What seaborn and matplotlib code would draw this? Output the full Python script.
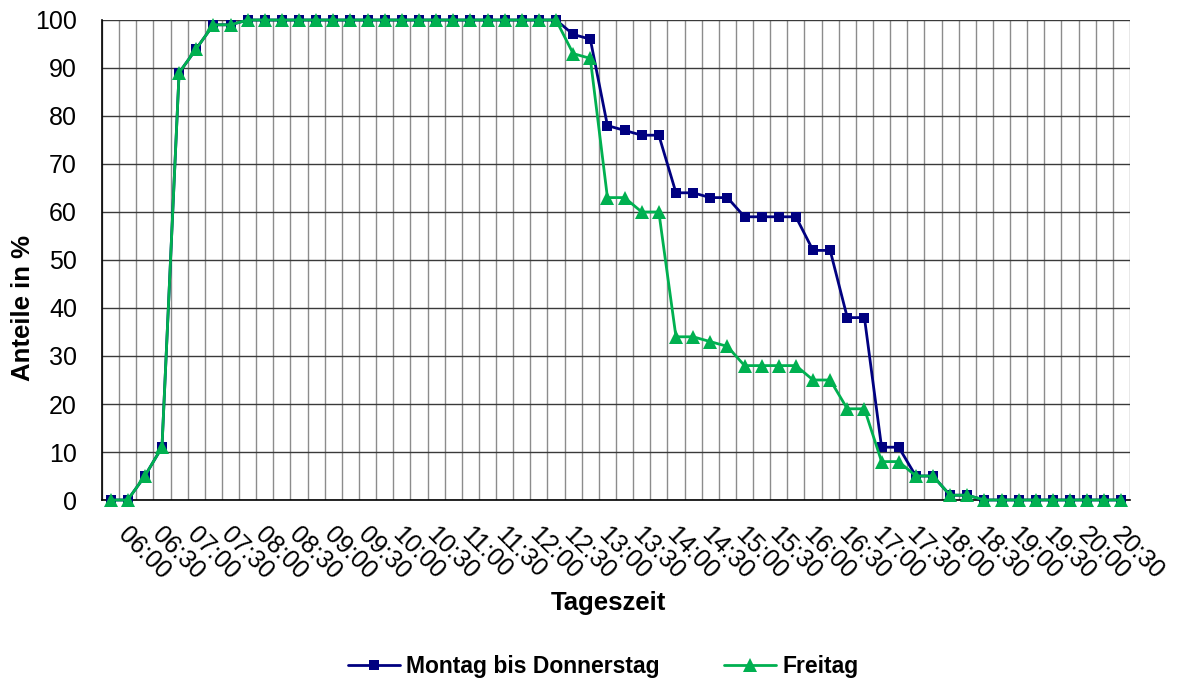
import numpy as np
import pandas as pd
import matplotlib
matplotlib.use("Agg")
import matplotlib.pyplot as plt
import matplotlib.transforms as mtransforms
import seaborn as sns

# Viertelstunden von 06:00 bis 20:45
zeiten = ["06:00", "06:15", "06:30", "06:45", "07:00", "07:15", "07:30", "07:45",
          "08:00", "08:15", "08:30", "08:45", "09:00", "09:15", "09:30", "09:45",
          "10:00", "10:15", "10:30", "10:45", "11:00", "11:15", "11:30", "11:45",
          "12:00", "12:15", "12:30", "12:45", "13:00", "13:15", "13:30", "13:45",
          "14:00", "14:15", "14:30", "14:45", "15:00", "15:15", "15:30", "15:45",
          "16:00", "16:15", "16:30", "16:45", "17:00", "17:15", "17:30", "17:45",
          "18:00", "18:15", "18:30", "18:45", "19:00", "19:15", "19:30", "19:45",
          "20:00", "20:15", "20:30", "20:45"]

tick_labels = ["06:00", "06:30", "07:00", "07:30", "08:00", "08:30", "09:00", "09:30",
               "10:00", "10:30", "11:00", "11:30", "12:00", "12:30", "13:00", "13:30",
               "14:00", "14:30", "15:00", "15:30", "16:00", "16:30", "17:00", "17:30",
               "18:00", "18:30", "19:00", "19:30", "20:00", "20:30"]

mo_do = [0, 0, 5, 11, 89, 94, 99, 99,
         100, 100, 100, 100, 100, 100, 100, 100, 100, 100,
         100, 100, 100, 100, 100, 100, 100, 100, 100,
         97, 96, 78, 77, 76, 76, 64, 64, 63, 63, 59, 59, 59, 59,
         52, 52, 38, 38, 11, 11, 5, 5, 1, 1,
         0, 0, 0, 0, 0, 0, 0, 0, 0]

freitag = [0, 0, 5, 11, 89, 94, 99, 99,
           100, 100, 100, 100, 100, 100, 100, 100, 100, 100,
           100, 100, 100, 100, 100, 100, 100, 100, 100,
           93, 92, 63, 63, 60, 60, 34, 34, 33, 32, 28, 28, 28, 28,
           25, 25, 19, 19, 8, 8, 5, 5, 1, 1,
           0, 0, 0, 0, 0, 0, 0, 0, 0]

df = pd.DataFrame({"zeit": zeiten, "pos": np.arange(len(zeiten)),
                   "Montag bis Donnerstag": mo_do, "Freitag": freitag})

sns.set_style("white")
plt.rcParams["font.family"] = ["Liberation Sans", "DejaVu Sans"]
plt.rcParams["text.color"] = "black"
plt.rcParams["axes.labelcolor"] = "black"
plt.rcParams["xtick.color"] = "black"
plt.rcParams["ytick.color"] = "black"

fig = plt.figure(figsize=(11.79, 6.8), dpi=100)
ax = fig.add_axes([102 / 1179, 180 / 680, 1028 / 1179, 480 / 680])

navy = "#000080"
gruen = "#00B050"

sns.lineplot(data=df, x="pos", y="Montag bis Donnerstag", ax=ax, color=navy,
             marker="s", markersize=7, markeredgewidth=0, linewidth=2,
             clip_on=False, zorder=3, label="Montag bis Donnerstag")
sns.lineplot(data=df, x="pos", y="Freitag", ax=ax, color=gruen,
             marker="^", markersize=10, markeredgewidth=0, linewidth=2,
             clip_on=False, zorder=4, label="Freitag")

ax.set_xlim(-0.5, len(zeiten) - 0.5)
ax.set_ylim(0, 100)

# y-Achse
ax.set_yticks(np.arange(0, 101, 10))
ax.set_yticks(np.arange(0, 101, 2), minor=True)
ax.tick_params(axis="y", which="major", direction="out", length=5, width=1,
               labelsize=18, pad=13, colors="black")
ax.tick_params(axis="y", which="minor", direction="in", length=5.5, width=1, colors="black")
ax.grid(axis="y", which="major", color="#3a3a3a", linewidth=1)

# x-Achse: Kategoriegrenzen als Striche, Beschriftung jede halbe Stunde
grenzen = np.arange(-0.5, len(zeiten), 1.0)
ax.set_xticks(grenzen, minor=True)
ax.set_xticks(df["pos"][::2])
ax.set_xticklabels(tick_labels, rotation=-45, ha="left", va="top",
                   rotation_mode="anchor", fontsize=18, color="black")
ax.tick_params(axis="x", which="major", length=0, pad=16)
ax.tick_params(axis="x", which="minor", direction="inout", length=10, width=1, colors="black")
ax.grid(axis="x", which="minor", color="#8c8c8c", linewidth=1)
verschiebung = mtransforms.ScaledTranslation(0.2, 0, fig.dpi_scale_trans)
for lab in ax.get_xticklabels():
    lab.set_transform(lab.get_transform() + verschiebung)

for s in ["top", "right"]:
    ax.spines[s].set_visible(False)
for s in ["left", "bottom"]:
    ax.spines[s].set_color("black")
    ax.spines[s].set_linewidth(1.2)
ax.set_axisbelow(True)

ax.set_xlabel("")
ax.set_ylabel("")
fig.text(23 / 1179, 1 - 308 / 680, "Anteile in %", rotation=90, ha="center",
         va="center", fontsize=18.5, fontweight="bold", color="black")
fig.text(608 / 1179, 1 - 603 / 680, "Tageszeit", ha="center", va="center",
         fontsize=18.5, fontweight="bold", color="black")

handles, labels = ax.get_legend_handles_labels()
ax.get_legend().remove()
fig.legend(handles, labels, loc="center", bbox_to_anchor=(603 / 1179, 1 - 667 / 680),
           ncol=2, frameon=False, handlelength=2.3, handletextpad=0.25,
           columnspacing=2.8, prop={"size": 16.5, "weight": "bold"})

fig.savefig("out.png", dpi=100)
